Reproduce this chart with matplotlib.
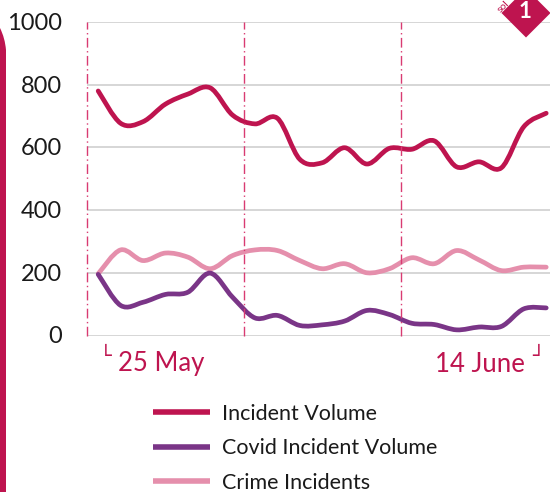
import matplotlib
matplotlib.use('Agg')
import matplotlib.pyplot as plt
from matplotlib.lines import Line2D
from matplotlib.patches import PathPatch, Polygon
from matplotlib.path import Path
from matplotlib.transforms import ScaledTranslation

plt.rcParams['font.family'] = ['Lato', 'DejaVu Sans']

# Daily values, 25 May to 14 June
days = list(range(21))
incident_volume = [780, 677, 682, 738, 770, 790, 703, 675, 693, 562, 551,
                   599, 547, 597, 594, 621, 538, 554, 535, 666, 709]
covid_volume = [195, 96, 106, 131, 138, 199, 122, 56, 64, 32, 34,
                46, 80, 67, 39, 35, 18, 27, 29, 85, 88]
crime_incidents = [197, 273, 239, 263, 250, 213, 255, 273, 271, 239, 213,
                   229, 200, 213, 248, 229, 271, 241, 207, 218, 218]

series_names = ['Incident Volume', 'Covid Incident Volume', 'Crime Incidents']
series_colors = ['#BE144F', '#7A3587', '#E58FAC']
y_ticks = [0, 200, 400, 600, 800, 1000]
week_lines = [-0.5, 6.5, 13.5]

W, H = 550, 492


# Smoothed line like a spreadsheet chart: one bezier section between each pair of values
def smooth_path(xs, ys):
    verts = [(xs[0], ys[0])]
    codes = [Path.MOVETO]
    n = len(xs)
    for i in range(n - 1):
        a = max(i - 1, 0)
        b = min(i + 2, n - 1)
        verts.append((xs[i] + (xs[i + 1] - xs[a]) / 6, ys[i] + (ys[i + 1] - ys[a]) / 6))
        verts.append((xs[i + 1] - (xs[b] - xs[i]) / 6, ys[i + 1] - (ys[b] - ys[i]) / 6))
        verts.append((xs[i + 1], ys[i + 1]))
        codes += [Path.CURVE4] * 3
    return Path(verts, codes)


def to_fig(x, y):
    return x / W, 1 - y / H


fig = plt.figure(figsize=(W / 100, H / 100), dpi=100)
ax = fig.add_axes([87 / W, 1 - 335.5 / H, 470.4 / W, 313.5 / H])
ax.set_xlim(-0.5, 20.5)
ax.set_ylim(0, 1000)

ax.set_yticks(y_ticks)
ax.set_xticks([])
ax.tick_params(axis='y', length=0, pad=18, labelsize=17, labelcolor='#1a1a1a')
ax.grid(True, axis='y', color='#D0D0D0', linewidth=1.2)
ax.set_axisbelow(True)
for side in ax.spines:
    ax.spines[side].set_visible(False)
# tick labels sit a little above their grid lines
for label in ax.get_yticklabels():
    label.set_transform(label.get_transform() + ScaledTranslation(0, 0.5 / 72, fig.dpi_scale_trans))

for x in week_lines:
    ax.axvline(x, color='#D93B72', linewidth=1.0, linestyle=(0, (7, 2.5, 1, 2.5)), clip_on=False)

for values, color in zip([crime_incidents, covid_volume, incident_volume],
                         [series_colors[2], series_colors[1], series_colors[0]]):
    ax.add_patch(PathPatch(smooth_path(days, values), facecolor='none', edgecolor=color,
                           linewidth=3.4, capstyle='round', joinstyle='round'))

# Date range labels under the axis
fig.text(118 / W, 1 - 364 / H, '25 May', color='#BE144F', fontsize=18.5, va='center')
fig.text(525 / W, 1 - 364 / H, '14 June', color='#BE144F', fontsize=18.5, va='center', ha='right')
fig.text(106 / W, 1 - 357 / H, '\u2514', color='#BE144F', fontsize=14, va='center', ha='center',
         family='DejaVu Sans')
fig.text(538 / W, 1 - 357 / H, '\u2518', color='#BE144F', fontsize=14, va='center', ha='center',
         family='DejaVu Sans')

# Legend
handles = [Line2D([], [], color=c, linewidth=4, solid_capstyle='butt') for c in series_colors]
fig.legend(handles, series_names, loc='upper left', bbox_to_anchor=(153 / W, 1 - 403.5 / H),
           frameon=False, fontsize=15.5, handlelength=2.65, handletextpad=0.56, labelspacing=0.68,
           labelcolor='#1a1a1a', borderpad=0, borderaxespad=0)

# Page decoration: side bar with its curved top, and corner badge
bar_path = Path([to_fig(0, H), to_fig(6, H), to_fig(6, 50), to_fig(5, 38), to_fig(0, 28), to_fig(0, H)],
                [Path.MOVETO, Path.LINETO, Path.LINETO, Path.CURVE3, Path.CURVE3, Path.CLOSEPOLY])
fig.add_artist(PathPatch(bar_path, transform=fig.transFigure, facecolor='#BE144F', edgecolor='none'))
badge_x = [526, 550.5, 526, 501.5]
badge_y = [-11.5, 13, 37.5, 13]
fig.add_artist(Polygon([to_fig(x, y) for x, y in zip(badge_x, badge_y)], closed=True,
                       transform=fig.transFigure, facecolor='#BE144F', edgecolor='none'))
fig.text(525 / W, 1 - 12 / H, '1', color='white', fontsize=16, fontweight='bold', ha='center', va='center')
fig.text(503 / W, 1 - 6.5 / H, 'sol', color='#BE144F', fontsize=7.5, rotation=45, ha='center', va='center')

fig.savefig('out.png', dpi=100)
plt.close(fig)
